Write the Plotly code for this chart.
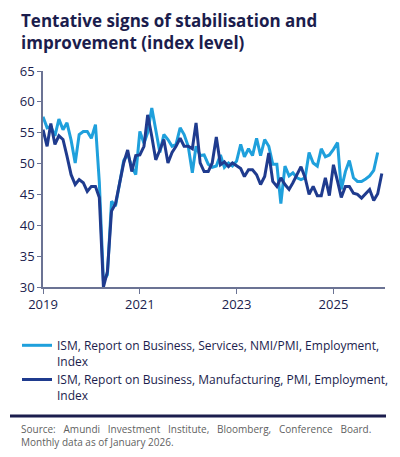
import pandas as pd
import plotly.graph_objects as go

# %%
# monthly index levels (Jan 2019 onwards)
services_employment = [
    57.6, 55.8, 56.0, 54.5, 57.2, 55.5, 56.6, 53.8, 50.1, 54.7, 55.2, 55.2,  # 2019
    54.1, 56.3, 47.0, 31.0, 32.0, 43.9, 43.1, 47.0, 50.5, 51.5, 49.5, 48.2,  # 2020
    55.2, 53.3, 55.0, 59.0, 55.5, 51.8, 54.7, 53.9, 52.8, 53.1, 55.8, 54.7,  # 2021
    52.8, 48.5, 52.8, 51.3, 51.4, 49.9, 49.4, 49.6, 51.4, 49.4, 50.1, 49.6,  # 2022
    50.4, 53.1, 51.1, 52.4, 51.3, 54.1, 51.3, 53.9, 52.8, 49.9, 49.9, 43.5,  # 2023
    49.6, 48.0, 48.5, 47.7, 47.4, 47.7, 51.8, 50.1, 49.6, 52.4, 51.1, 51.4,  # 2024
    52.3, 53.4, 45.8, 48.7, 50.5, 47.7, 47.1, 47.1, 47.5, 48.0, 48.9, 51.8,  # 2025
]
manufacturing_employment = [
    55.5, 52.8, 56.5, 53.1, 54.5, 53.9, 51.2, 48.2, 46.6, 47.4, 46.9, 45.5,  # 2019
    46.3, 46.3, 44.5, 30.0, 32.5, 42.3, 43.5, 46.9, 50.1, 52.2, 48.7, 51.3,  # 2020
    51.4, 52.8, 57.9, 54.4, 50.6, 52.2, 53.9, 50.1, 51.8, 52.8, 54.1, 52.8,  # 2021
    52.8, 52.4, 56.6, 50.1, 48.7, 48.7, 50.1, 54.3, 49.8, 50.3, 49.5, 50.1,  # 2022
    49.6, 49.2, 47.9, 49.0, 49.0, 48.2, 46.6, 47.9, 51.7, 47.1, 46.3, 47.7,  # 2023
    46.6, 45.8, 46.9, 48.2, 49.5, 47.7, 45.0, 46.3, 44.8, 44.8, 47.7, 44.8,  # 2024
    49.8, 47.1, 44.5, 46.3, 46.3, 45.2, 45.0, 44.4, 45.2, 45.8, 44.0, 45.1,  # 2025
    48.4,  # Jan 2026
]
year_ticks = ["2019-01-01", "2021-01-01", "2023-01-01", "2025-01-01"]
year_labels = ["2019", "2021", "2023", "2025"]

services_dates = pd.date_range("2019-01-01", periods=len(services_employment), freq="MS")
manufacturing_dates = pd.date_range("2019-01-01", periods=len(manufacturing_employment), freq="MS")

# %%
LIGHT = "#1fa0dc"
DARK = "#1f3b8e"
NAVY = "#1b1d4d"
FONT = "Open Sans"

W, H = 400, 457
L, R, T, B = 43, 15, 71, 170
plot_w = W - L - R
plot_h = H - T - B


def px_x(x):
    # pixel -> paper x
    return (x - L) / plot_w


def px_y(y):
    # pixel -> paper y
    return (H - B - y) / plot_h


fig = go.Figure()
fig.add_trace(go.Scatter(
    x=services_dates, y=services_employment, mode="lines",
    name="ISM, Report on Business, Services, NMI/PMI, Employment,<br>Index",
    line=dict(color=LIGHT, width=3),
))
fig.add_trace(go.Scatter(
    x=manufacturing_dates, y=manufacturing_employment, mode="lines",
    name="ISM, Report on Business, Manufacturing, PMI, Employment,<br>Index",
    line=dict(color=DARK, width=3),
))

fig.update_layout(
    width=W, height=H,
    margin=dict(l=L, r=R, t=T, b=B),
    paper_bgcolor="white", plot_bgcolor="white",
    font=dict(family=FONT, color=NAVY, size=13),
    xaxis=dict(
        range=["2019-01-01", "2026-01-25"],
        tickvals=year_ticks, ticktext=year_labels,
        showgrid=False, zeroline=False,
        showline=True, linecolor="#6b7394", linewidth=1.5,
        ticks="outside", ticklen=5, tickcolor="#6b7394",
        tickfont=dict(size=13, color=NAVY),
    ),
    yaxis=dict(
        range=[30, 65], dtick=5,
        showgrid=False, zeroline=False,
        showline=True, linecolor="#6b7394", linewidth=1.5,
        ticks="outside", ticklen=4, tickcolor="#6b7394",
        tickfont=dict(size=13, color=NAVY),
    ),
    showlegend=True,
    legend=dict(
        x=px_x(17), xanchor="left",
        y=px_y(331), yanchor="top",
        valign="top", tracegroupgap=0,
        font=dict(size=12, color=NAVY, family=FONT),
        bgcolor="rgba(0,0,0,0)",
    ),
)

# title as an annotation so it sits where the reference has it
fig.add_annotation(
    text="<b>Tentative signs of stabilisation and<br>improvement (index level)</b>",
    xref="paper", yref="paper", x=px_x(19), y=px_y(7),
    xanchor="left", yanchor="top", align="left", showarrow=False,
    font=dict(size=17, color=NAVY, family=FONT),
)

# rule above the source note
fig.add_shape(
    type="line", xref="paper", yref="paper",
    x0=px_x(10), x1=px_x(386), y0=px_y(416), y1=px_y(416),
    line=dict(color=NAVY, width=3),
)
# first line is spread out like the justified text in the original
fig.add_annotation(
    text="Source:&nbsp;&nbsp; Amundi&nbsp;&nbsp; Investment&nbsp;&nbsp; Institute,&nbsp;&nbsp; "
         "Bloomberg,&nbsp;&nbsp; Conference&nbsp;&nbsp; Board.<br>Monthly data as of January 2026.",
    xref="paper", yref="paper", x=px_x(19), y=px_y(420),
    xanchor="left", yanchor="top", align="left", showarrow=False,
    font=dict(size=10, color="#5f5f5f", family=FONT),
)

fig.write_html("out.html", config={"displayModeBar": False},
               post_script="document.body.style.margin='0';")
